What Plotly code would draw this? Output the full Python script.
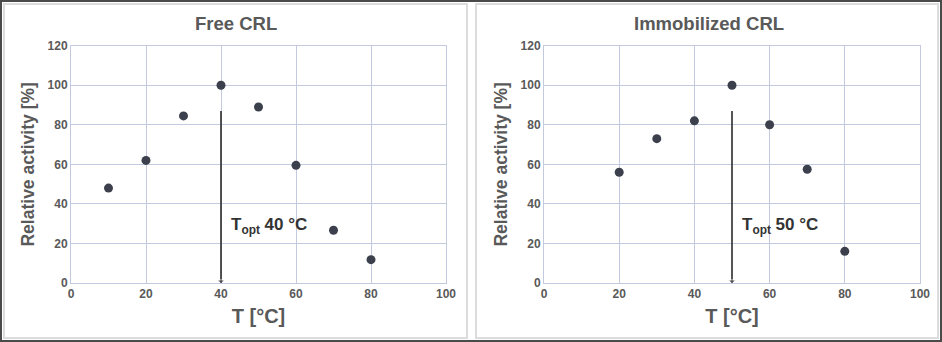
import plotly.graph_objects as go

# Data
temps_free = [10, 20, 30, 40, 50, 60, 70, 80]
activity_free = [48, 62, 84.5, 100, 89, 59.5, 26.7, 11.8]
temps_imm = [20, 30, 40, 50, 60, 70, 80]
activity_imm = [56, 73, 82, 100, 80, 57.5, 16]
titles = ["Free CRL", "Immobilized CRL"]
topt = [40, 50]
topt_labels = ["T<sub>opt</sub> 40 °C", "T<sub>opt</sub> 50 °C"]
arrow_top = 87
x_ticks = [0, 20, 40, 60, 80, 100]
y_ticks = [0, 20, 40, 60, 80, 100, 120]

W, H = 942, 342
FONT = "Liberation Sans, Arial, sans-serif"
TXT = "#595959"
GRID = "#c3c9de"
MARK = "#3b404c"

def px_x(p):
    return p / W

def px_y(p):
    return 1 - p / H

fig = go.Figure()
fig.add_trace(go.Scatter(x=temps_free, y=activity_free, mode="markers",
                         marker=dict(size=9, color=MARK), xaxis="x", yaxis="y",
                         showlegend=False))
fig.add_trace(go.Scatter(x=temps_imm, y=activity_imm, mode="markers",
                         marker=dict(size=9, color=MARK), xaxis="x2", yaxis="y2",
                         showlegend=False))

axn = ["", "2"]
for i in range(2):
    fig.add_trace(go.Scatter(x=[topt[i], topt[i]], y=[arrow_top, 0.8], mode="lines+markers",
                             line=dict(color="#2b2b2b", width=1.6),
                             marker=dict(symbol="triangle-down", size=[0, 6], color="#2b2b2b"),
                             xaxis="x" + axn[i], yaxis="y" + axn[i], showlegend=False,
                             hoverinfo="skip"))

ydom = [px_y(283), px_y(45.7)]
axis_common = dict(showgrid=True, gridcolor=GRID, gridwidth=1, showline=True,
                   linecolor=GRID, linewidth=1, mirror=True, zeroline=False,
                   automargin=False,
                   ticks="", tickfont=dict(family=FONT, size=12, color=TXT, weight="bold"))

xaxis_common = dict(axis_common, range=[0, 100], tickvals=x_ticks,
                    title=dict(text="T [°C]", font=dict(family=FONT, size=20, color=TXT, weight="bold"),
                               standoff=8))
yaxis_common = dict(axis_common, range=[0, 120], tickvals=y_ticks,
                    title=dict(text="Relative activity [%]",
                               font=dict(family=FONT, size=17.5, color=TXT, weight="bold"),
                               standoff=8))

fig.update_layout(
    width=W, height=H,
    margin=dict(l=0, r=0, t=0, b=0, autoexpand=False),
    paper_bgcolor="white", plot_bgcolor="white",
    xaxis=dict(xaxis_common, domain=[px_x(71), px_x(446)], anchor="y"),
    yaxis=dict(yaxis_common, domain=ydom, anchor="x"),
    xaxis2=dict(xaxis_common, domain=[px_x(544), px_x(920)], anchor="y2"),
    yaxis2=dict(yaxis_common, domain=ydom, anchor="x2"),
)

annotations = []
centers = [236, 709]
for i, (t, c) in enumerate(zip(titles, centers)):
    annotations.append(dict(text=t, x=px_x(c), y=px_y(23), xref="paper", yref="paper",
                            showarrow=False, xanchor="center", yanchor="middle",
                            font=dict(family=FONT, size=18.5, color=TXT, weight="bold")))
for i in range(2):
    annotations.append(dict(x=topt[i] + 2, y=29, xref="x" + axn[i], yref="y" + axn[i],
                            text=topt_labels[i], showarrow=False, xanchor="left",
                            yanchor="middle",
                            font=dict(family=FONT, size=17, color="#333333", weight="bold")))
fig.update_layout(annotations=annotations)

shapes = [
    dict(type="rect", xref="paper", yref="paper", x0=px_x(4), x1=px_x(467),
         y0=px_y(338), y1=px_y(4), line=dict(color="#dcdcdc", width=2)),
    dict(type="rect", xref="paper", yref="paper", x0=px_x(476), x1=px_x(938),
         y0=px_y(338), y1=px_y(4), line=dict(color="#dcdcdc", width=2)),
    dict(type="rect", xref="paper", yref="paper", x0=px_x(1), x1=px_x(941),
         y0=px_y(341), y1=px_y(1), line=dict(color="#4a4a4a", width=2)),
]
fig.update_layout(shapes=shapes)

fig.write_html("out.html")
